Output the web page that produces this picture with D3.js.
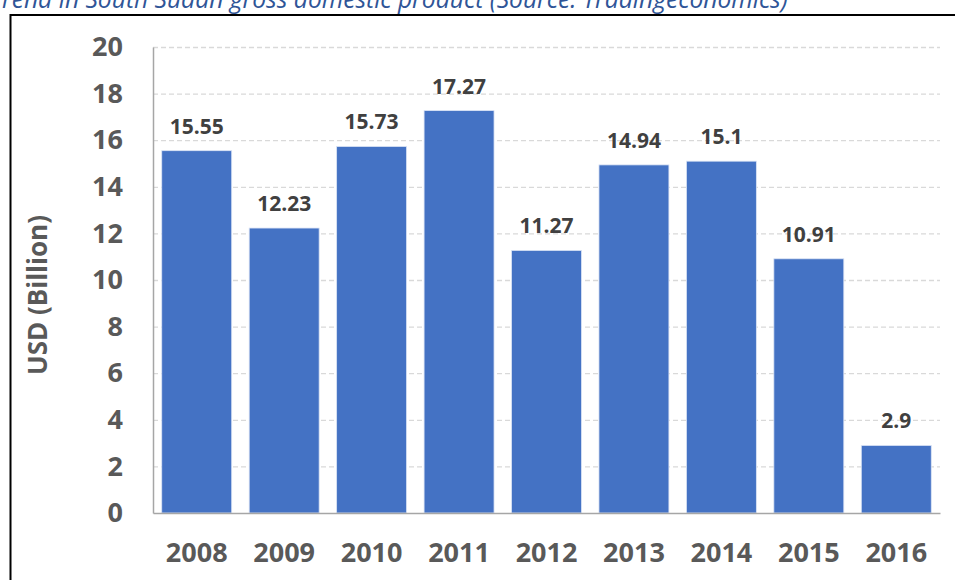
<!DOCTYPE html>
<html>
<head>
<meta charset="utf-8">
<script src="https://cdn.jsdelivr.net/npm/d3@7"></script>
<style>
body { margin: 0; background: #fff; }
svg { display: block; }
</style>
</head>
<body>
<div id="body"></div>
<script>
const years = ["2008", "2009", "2010", "2011", "2012", "2013", "2014", "2015", "2016"];
const gdp = [15.55, 12.23, 15.73, 17.27, 11.27, 14.94, 15.1, 10.91, 2.9];
const yTicks = [0, 2, 4, 6, 8, 10, 12, 14, 16, 18, 20];
const titleText = "Trend in South Sudan gross domestic product (Source: Tradingeconomics)";
const yTitle = "USD (Billion)";

const W = 955, H = 580;
const margin = {top: 47, right: 15, bottom: 67, left: 153};
var width = W - margin.left - margin.right,
	height = H - margin.top - margin.bottom;
const font = "Open Sans, sans-serif";

var svg = d3.select("#body").append("svg")
	.attr("width", W).attr("height", H);

// caption above the box (cut off at the top and left)
var title = svg.append("text")
	.attr("y", 8)
	.attr("font-family", font)
	.attr("font-style", "italic")
	.attr("font-size", 20)
	.attr("fill", "#2F5597");
title.append("tspan").attr("class", "first").text(titleText.slice(0, 1));
title.append("tspan").text(titleText.slice(1));
// fit "rend ... )" between x=2 and x=788
var full = title.node().getComputedTextLength();
var tw = title.select(".first").node().getComputedTextLength();
var fs = 20 * 786 / (full - tw);
title.attr("font-size", fs).attr("x", 2 - tw * fs / 20);

// frame around the chart
svg.append("path")
	.attr("d", "M10.5," + H + "V15H" + W)
	.attr("fill", "none").attr("stroke", "#000").attr("stroke-width", 2);

var g = svg.append("g").attr("transform", "translate(" + margin.left + "," + margin.top + ")");

var x = d3.scaleBand().domain(years).range([0, width]).paddingInner(0.2).paddingOuter(0.1);
var y = d3.scaleLinear().domain([0, 20]).range([height, 0]);

// gridlines
g.selectAll(".grid").data(yTicks.filter(d => d > 0)).enter().append("line")
	.attr("class", "grid")
	.attr("x1", 0).attr("x2", width)
	.attr("y1", d => y(d) + 0.5).attr("y2", d => y(d) + 0.5)
	.attr("stroke", "#d9d9d9").attr("stroke-width", 1.3)
	.attr("stroke-dasharray", "5,3");

// y axis
var yAxis = g.append("g").attr("class", "y axis")
	.call(d3.axisLeft(y).tickValues(yTicks).tickSize(0).tickPadding(30));
yAxis.select(".domain").attr("stroke", "#a6a6a6").attr("stroke-width", 1.5);
yAxis.selectAll("text")
	.attr("font-family", font)
	.attr("font-weight", "bold")
	.attr("font-size", 27)
	.attr("fill", "#595959");

// bars
g.selectAll("rect.bar").data(gdp).enter().append("rect")
	.attr("class", "bar")
	.attr("x", (d, i) => x(years[i]))
	.attr("width", x.bandwidth())
	.attr("y", d => y(d))
	.attr("height", d => height - y(d))
	.attr("fill", "#4472C4")
	.attr("stroke", "#dbe4f5").attr("stroke-width", 0.8);

// value labels
g.selectAll("text.val").data(gdp).enter().append("text")
	.attr("class", "val")
	.attr("x", (d, i) => x(years[i]) + x.bandwidth() / 2)
	.attr("y", d => y(d) - 17)
	.attr("text-anchor", "middle")
	.attr("font-family", font)
	.attr("font-weight", "bold")
	.attr("font-size", 21)
	.attr("fill", "#404040")
	.text(d => d);

// x axis
var xAxis = g.append("g").attr("class", "x axis")
	.attr("transform", "translate(0," + height + ")")
	.call(d3.axisBottom(x).tickSize(0).tickPadding(30));
xAxis.select(".domain").attr("stroke", "#a6a6a6").attr("stroke-width", 1.5);
xAxis.selectAll("text")
	.attr("font-family", font)
	.attr("font-weight", "bold")
	.attr("font-size", 27)
	.attr("fill", "#595959");

// y title
svg.append("text")
	.attr("transform", "translate(47,295) rotate(-90)")
	.attr("text-anchor", "middle")
	.attr("font-family", font)
	.attr("font-weight", "bold")
	.attr("font-size", 26)
	.attr("fill", "#595959")
	.text(yTitle);
</script>
</body>
</html>
